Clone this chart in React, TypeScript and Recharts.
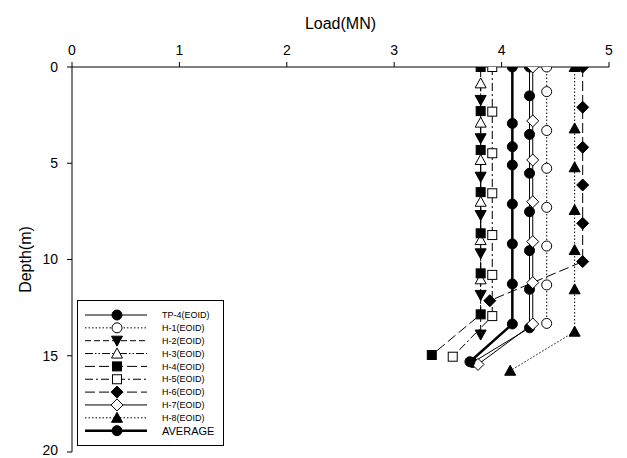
import React from "react";
import { LineChart, Line, XAxis, YAxis } from "recharts";

// [load (MN), depth (m)]
const TP4 = [[4.26, 0], [4.26, 1.5], [4.26, 3.5], [4.26, 5.52], [4.26, 7.52], [4.26, 9.54], [4.26, 11.55], [4.26, 13.55], [3.73, 15.35]];
const H1 = [[4.42, 0], [4.42, 1.28], [4.42, 3.3], [4.42, 5.26], [4.42, 7.29], [4.42, 9.3], [4.42, 11.32], [4.42, 13.32]];
const H2 = [[3.805, 1.71], [3.805, 3.7], [3.805, 5.7], [3.805, 7.69], [3.805, 9.68], [3.805, 11.84], [3.805, 13.9]];
const H3 = [[3.805, 0.85], [3.805, 2.89], [3.805, 4.83], [3.805, 7.0], [3.805, 8.99], [3.805, 11.03]];
const H4 = [[3.805, 0], [3.805, 2.29], [3.805, 4.31], [3.805, 6.5], [3.805, 8.64], [3.805, 10.72], [3.805, 12.85], [3.35, 14.96]];
const H5 = [[3.913, 0], [3.913, 2.32], [3.913, 4.48], [3.913, 6.56], [3.913, 8.73], [3.913, 10.8], [3.913, 12.94], [3.545, 15.05]];
const H6 = [[4.755, 0], [4.755, 2.09], [4.755, 4.17], [4.755, 6.13], [4.755, 8.12], [4.755, 10.11], [3.89, 12.14]];
const H7 = [[4.29, 0], [4.29, 2.8], [4.29, 4.83], [4.29, 7.0], [4.29, 9.07], [4.29, 11.2], [4.29, 13.35], [3.78, 15.45]];
const H8 = [[4.68, 0], [4.68, 3.19], [4.68, 5.21], [4.68, 7.43], [4.68, 9.51], [4.68, 11.55], [4.68, 13.75], [4.08, 15.78]];
const AVG = [[4.1, 0], [4.1, 2.93], [4.1, 4.14], [4.1, 5.09], [4.1, 7.12], [4.1, 9.19], [4.1, 11.27], [4.1, 13.35], [3.705, 15.31]];

const loadTicks = [0, 1, 2, 3, 4, 5];
const depthTicks = [0, 5, 10, 15, 20];

type Shape = "circle" | "square" | "tri-up" | "tri-down" | "diamond";

const series = [
  { name: "TP-4(EOID)", pts: TP4, shape: "circle" as Shape, fill: "#000", dash: undefined, width: 1 },
  { name: "H-1(EOID)", pts: H1, shape: "circle" as Shape, fill: "#fff", dash: "1.5 2", width: 1 },
  { name: "H-2(EOID)", pts: H2, shape: "tri-down" as Shape, fill: "#000", dash: "6 3", width: 1 },
  { name: "H-3(EOID)", pts: H3, shape: "tri-up" as Shape, fill: "#fff", dash: "8 2 1.5 2 1.5 2", width: 1 },
  { name: "H-4(EOID)", pts: H4, shape: "square" as Shape, fill: "#000", dash: "10 4", width: 1 },
  { name: "H-5(EOID)", pts: H5, shape: "square" as Shape, fill: "#fff", dash: "8 3 2 3", width: 1 },
  { name: "H-6(EOID)", pts: H6, shape: "diamond" as Shape, fill: "#000", dash: "10 4", width: 1 },
  { name: "H-7(EOID)", pts: H7, shape: "diamond" as Shape, fill: "#fff", dash: undefined, width: 1 },
  { name: "H-8(EOID)", pts: H8, shape: "tri-up" as Shape, fill: "#000", dash: "1.5 2", width: 1 },
  { name: "AVERAGE", pts: AVG, shape: "circle" as Shape, fill: "#000", dash: undefined, width: 2.5 },
];

function Marker({ cx, cy, shape, fill }: { cx: number; cy: number; shape: Shape; fill: string }) {
  const common = { fill, stroke: "#000", strokeWidth: 1 };
  if (shape === "circle") return <circle cx={cx} cy={cy} r={5} {...common} />;
  if (shape === "square") return <rect x={cx - 4.5} y={cy - 4.5} width={9} height={9} {...common} />;
  if (shape === "tri-up")
    return <polygon points={`${cx},${cy - 5.5} ${cx + 5.5},${cy + 4.5} ${cx - 5.5},${cy + 4.5}`} {...common} />;
  if (shape === "tri-down")
    return <polygon points={`${cx},${cy + 5.5} ${cx + 5.5},${cy - 4.5} ${cx - 5.5},${cy - 4.5}`} {...common} />;
  return <polygon points={`${cx},${cy - 6} ${cx + 6},${cy} ${cx},${cy + 6} ${cx - 6},${cy}`} {...common} />;
}

function LegendBox() {
  return (
    <svg width={147} height={146} style={{ position: "absolute", left: 77, top: 300 }}>
      <rect x={0.5} y={0.5} width={146} height={145} fill="#fff" stroke="#000" strokeWidth={1} />
      {series.map((s, i) => {
        const y = 15 + i * 12.85;
        return (
          <g key={s.name}>
            <line x1={8} x2={70} y1={y} y2={y} stroke="#000" strokeWidth={s.width} strokeDasharray={s.dash} />
            <Marker cx={40} cy={y} shape={s.shape} fill={s.fill} />
            <text
              x={85}
              y={y}
              dy="0.35em"
              fontSize={s.name === "AVERAGE" ? 11 : 9}
              fontFamily="Arial, 'Liberation Sans', sans-serif"
              fill="#000"
            >
              {s.name}
            </text>
          </g>
        );
      })}
    </svg>
  );
}

export default function App() {
  return (
    <div
      style={{
        position: "absolute",
        left: 0,
        top: 0,
        width: 627,
        height: 458,
        background: "#fff",
        fontFamily: "Arial, 'Liberation Sans', sans-serif",
      }}
    >
      <LineChart width={627} height={458} margin={{ top: 37, left: 12, right: 18, bottom: 6 }}>
        <XAxis
          type="number"
          dataKey="load"
          orientation="top"
          domain={[0, 5]}
          ticks={loadTicks}
          height={30}
          tickSize={5}
          tickMargin={7}
          stroke="#000"
          tick={{ fill: "#000", fontSize: 14 }}
          allowDataOverflow
          label={{ value: "Load(MN)", position: "top", offset: 8, fill: "#000", fontSize: 16 }}
        />
        <YAxis
          type="number"
          dataKey="depth"
          domain={[0, 20]}
          ticks={depthTicks}
          reversed
          width={60}
          tickSize={5}
          tickMargin={9}
          stroke="#000"
          tick={{ fill: "#000", fontSize: 14 }}
          allowDataOverflow
          label={(props: any) => {
            const vb = props.viewBox || { y: 67, height: 385 };
            const cy = vb.y + vb.height / 2;
            return (
              <text x={25} y={cy} transform={`rotate(-90, 25, ${cy})`} textAnchor="middle" dominantBaseline="central" fontSize={16} fill="#000">
                Depth(m)
              </text>
            );
          }}
        />
        {series.map((s) => (
          <Line
            key={s.name}
            data={s.pts.map(([load, depth]) => ({ load, depth }))}
            dataKey="depth"
            type="linear"
            stroke="#000"
            strokeWidth={s.width}
            strokeDasharray={s.dash}
            isAnimationActive={false}
            activeDot={false}
            dot={(p: any) => <Marker key={`${s.name}-${p.index}`} cx={p.cx} cy={p.cy} shape={s.shape} fill={s.fill} />}
          />
        ))}
      </LineChart>
      <LegendBox />
    </div>
  );
}
